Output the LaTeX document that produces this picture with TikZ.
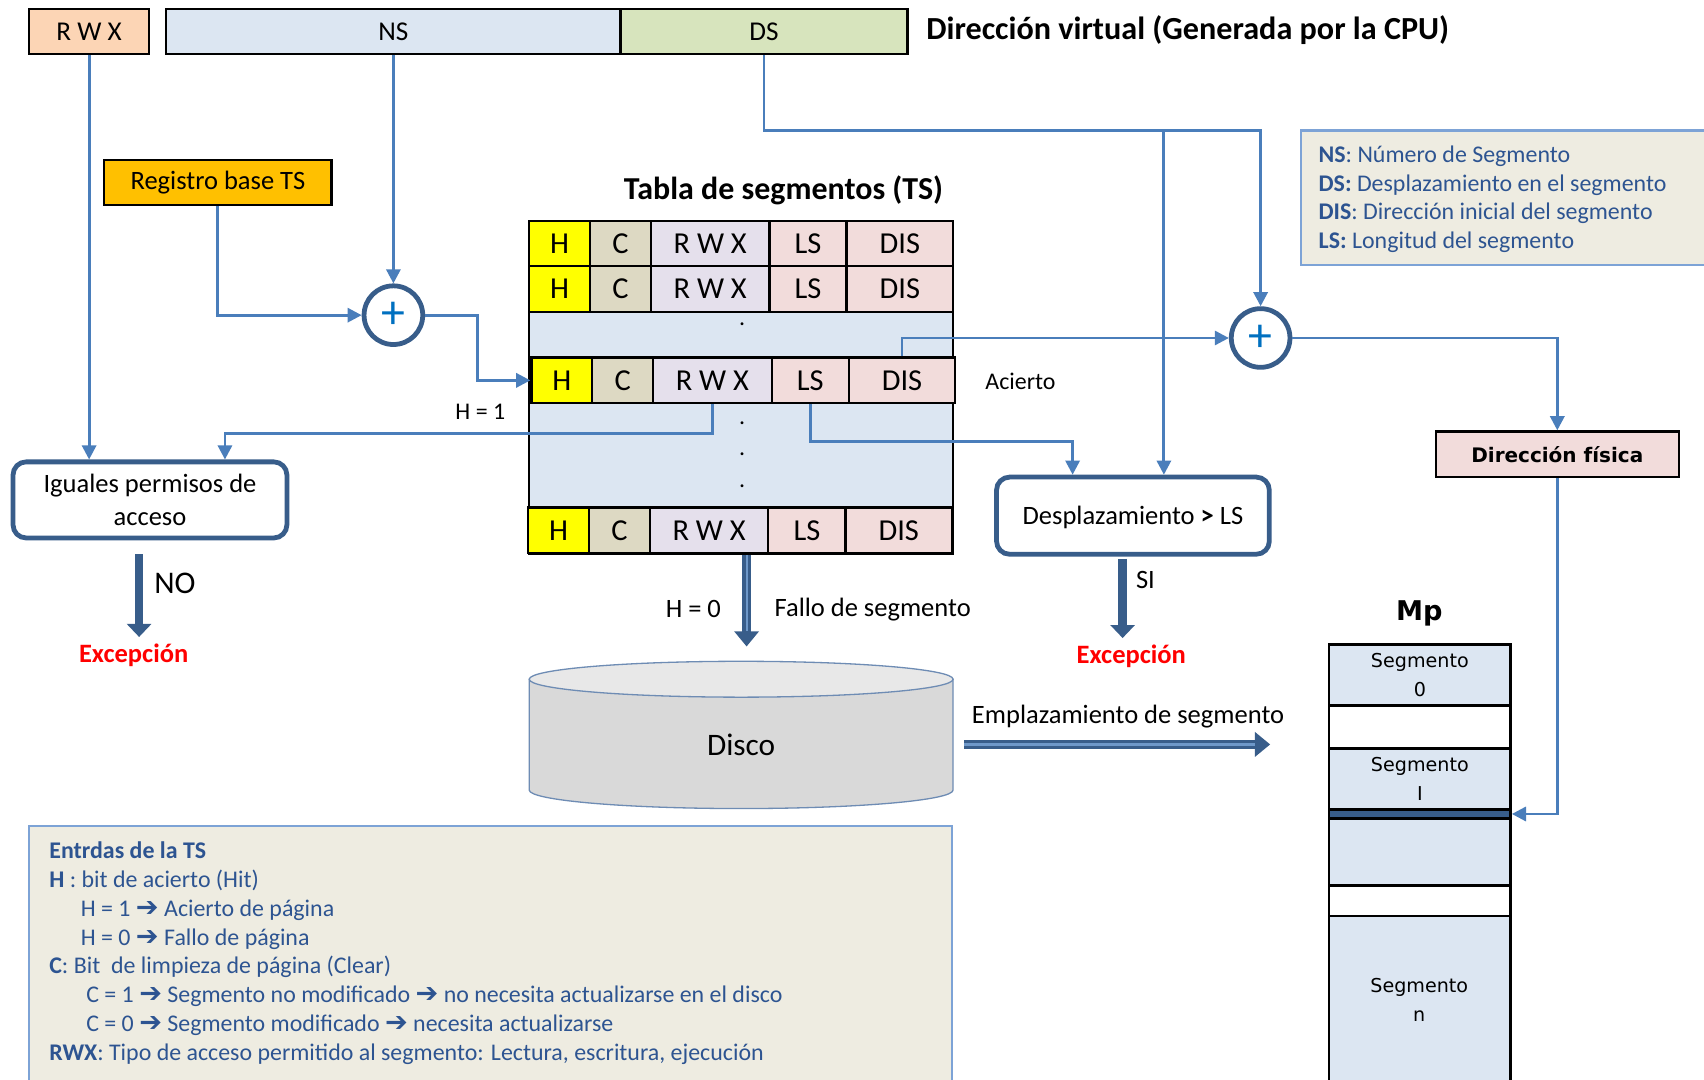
\documentclass[tikz,border=0pt]{standalone}
\usepackage{fontspec}
\setmainfont{Carlito}
\newfontfamily\verd{DejaVu Sans}
\newfontfamily\symf{DejaVu Sans}
\usetikzlibrary{arrows.meta,fit,shapes.geometric}

\definecolor{peach}{RGB}{252,213,181}
\definecolor{nsblue}{RGB}{220,230,242}
\definecolor{dsgreen}{RGB}{215,228,189}
\definecolor{regorange}{RGB}{255,192,0}
\definecolor{hyellow}{RGB}{255,255,0}
\definecolor{cbeige}{RGB}{221,217,195}
\definecolor{rwxlav}{RGB}{229,224,236}
\definecolor{lspink}{RGB}{242,220,219}
\definecolor{tblue}{RGB}{220,230,242}
\definecolor{legfill}{RGB}{238,236,225}
\definecolor{legborder}{RGB}{125,163,214}
\definecolor{linkblue}{RGB}{74,126,187}
\definecolor{darkblue}{RGB}{56,93,138}
\definecolor{legtext}{RGB}{45,84,145}
\definecolor{plusblue}{RGB}{0,112,192}
\definecolor{diskgray}{RGB}{217,217,217}
\definecolor{disktopc}{RGB}{232,232,232}
\definecolor{diskedge}{RGB}{110,140,180}

% one cell of the segment table: name, fill, x0, y0, x1, y1, text
\newcommand\tscell[7]{%
  \node[cell, fill=#2, fit={(#3,#4) (#5,#6)}] (#1) {};
  \node[celltext] at (#1.center) {#7};
}
% one row of the segment table: name prefix, left x, top y
\newcommand\tsrow[3]{%
  \tscell{#1h}{hyellow}{#2}{#3}{#2+56}{#3+42}{H}
  \tscell{#1c}{cbeige}{#2+56}{#3}{#2+112}{#3+42}{C}
  \tscell{#1r}{rwxlav}{#2+112}{#3}{#2+221}{#3+42}{R W X}
  \tscell{#1l}{lspink}{#2+221}{#3}{#2+292}{#3+42}{LS}
  \tscell{#1d}{lspink}{#2+292}{#3}{#2+390}{#3+42}{DIS}
}
\newcommand\arr{{\symf\bfseries\fontsize{12.5}{11}\selectfont ➔}}

\begin{document}
\begin{tikzpicture}[x=0.5pt, y=-0.5pt,
  every node/.style={inner sep=0pt},
  box/.style={draw=black, line width=1pt, inner sep=0pt},
  cell/.style={draw=black, line width=1pt, inner sep=0pt},
  celltext/.style={font=\fontsize{14}{16}\selectfont},
  boxtext/.style={font=\fontsize{12.5}{15}\selectfont, align=center},
  roundbox/.style={draw=darkblue, line width=2.2pt, rounded corners=6pt, fill=white, inner sep=0pt},
  roundtext/.style={align=center, font=\fontsize{12.2}{15}\selectfont},
  sumnode/.style={circle, draw=darkblue, line width=2.2pt, fill=white, minimum size=27pt, inner sep=0pt, text=plusblue, font=\fontsize{22}{22}\selectfont},
  link/.style={draw=linkblue, line width=1.3pt, -{Triangle[length=6.5pt,width=6.5pt]}},
  fat/.style={draw=darkblue, line width=4pt, -{Triangle[length=6pt,width=11pt]}},
  dbl/.style={draw=darkblue, line width=4.5pt, -{Triangle[length=7pt,width=11pt]}},
  dblin/.style={draw=linkblue!80!white, line width=1pt, shorten >=7pt},
  lbl/.style={font=\fontsize{12.2}{14}\selectfont},
  smalllbl/.style={font=\fontsize{11}{13}\selectfont},
  excp/.style={text=red, font=\fontsize{12.2}{14}\selectfont\bfseries},
  legend/.style={draw=legborder, line width=1pt, fill=legfill, inner sep=0pt},
  mpcell/.style={draw=black, line width=1.2pt, inner sep=0pt},
  mptext/.style={align=center, font=\verd\fontsize{8.8}{13.5}\selectfont},
]
\useasboundingbox (0,0) rectangle (1568,993);
\fill[white] (0,0) rectangle (1568,993);

% virtual address
\node[box, fill=peach,   fit={(27,8) (137,50)}] (rwx) {};
\node[boxtext] at (rwx.center) {R W X};
\node[box, fill=nsblue,  fit={(153,8) (571,50)}] (ns) {};
\node[boxtext] at (ns.center) {NS};
\node[box, fill=dsgreen, fit={(571,8) (835,50)}] (ds) {};
\node[boxtext] at (ds.center) {DS};
\node[anchor=west, font=\fontsize{14.8}{17}\selectfont\bfseries] (vtitle) at (852,28) {Dirección virtual (Generada por la CPU)};

% base register and adders
\node[box, fill=regorange, fit={(96,147) (305,189)}] (reg) {};
\node[boxtext, font=\fontsize{12.2}{15}\selectfont] at (reg.center) {Registro base TS};
\node[sumnode] (sum1) at (362,290) {+};
\node[sumnode] (sum2) at (1160,311) {+};

% top-right legend
\node[legend, fit={(1197,120) (1580,244)}] (leg1) {};
\node[anchor=north west, align=left, text=legtext, font=\fontsize{11}{13.15}\selectfont] (leg1txt) at (1213,134)
  {\textbf{NS}: Número de Segmento\\
   \textbf{DS:} Desplazamiento en el segmento\\
   \textbf{DIS}: Dirección inicial del segmento\\
   \textbf{LS:} Longitud del segmento};

% segment table
\node[font=\fontsize{14.7}{17}\selectfont\bfseries] (tstitle) at (721,175) {Tabla de segmentos (TS)};
\node[box, fill=tblue, fit={(487,203) (877,510)}] (tbl) {};
\tsrow{ra}{487}{203}
\tsrow{rb}{487}{245}
\tsrow{rc}{489}{329}
\tsrow{rd}{486}{467}
\node[smalllbl] (dot1) at (683,298) {.};
\node[smalllbl] (dot2) at (683,389) {.};
\node[smalllbl] (dot3) at (683,418) {.};
\node[smalllbl] (dot4) at (683,447) {.};
\node[smalllbl] (acierto) at (939,351) {Acierto};
\node[smalllbl] (h1) at (442,379) {H = 1};

% checks
\node[roundbox, fit={(12,425) (264,495)}] (igu) {};
\node[roundtext] at (igu.center) {Iguales permisos de\\acceso};
\node[roundbox, fit={(917,439) (1168,510)}] (desp) {};
\node[roundtext] at ([yshift=-1pt]desp.center) {Desplazamiento \textbf{>} LS};
\node[excp] (exc1) at (123,603) {Excepción};
\node[excp] (exc2) at (1041,604) {Excepción};
\node[font=\fontsize{14.5}{17}\selectfont] (no) at (161,537) {NO};
\node[lbl] (si) at (1054,534) {SI};

% physical address
\node[box, fill=lspink, fit={(1321,397) (1545,439)}] (dfis) {};
\node[font=\verd\bfseries\fontsize{9.2}{11}\selectfont] at (dfis.center) {Dirección física};

% disk
\path[fill=diskgray, draw=diskedge, line width=0.6pt] (487,625) -- (487,727)
  arc[start angle=180, end angle=360, x radius=97.5pt, y radius=8.5pt] -- (877,625) -- cycle;
\node[ellipse, draw=diskedge, line width=0.6pt, fill=disktopc, minimum width=195pt, minimum height=16.5pt] (disktop) at (682,625) {};
\node[fit={(487,625) (877,745)}] (diskbody) {};
\node[font=\fontsize{14.4}{17}\selectfont] at (diskbody.center) {Disco};
\node[lbl] (h0) at (638,560) {H = 0};
\node[lbl] (fallo) at (803,561) {Fallo de segmento};
\node[lbl] (empl) at (1038,659) {Emplazamiento de segmento};

% main memory
\node[font=\verd\bfseries\fontsize{12.5}{15}\selectfont] (mptitle) at (1306,564) {Mp};
\node[mpcell, fill=tblue,    fit={(1223,593) (1390,649)}] (mp0) {};
\node[mptext] at (mp0.center) {Segmento\\0};
\node[mpcell, fill=white,    fit={(1223,649) (1390,689)}] (mpg1) {};
\node[mpcell, fill=tblue,    fit={(1223,689) (1390,745)}] (mp1) {};
\node[mptext] at (mp1.center) {Segmento\\I};
\node[mpcell, fill=darkblue, fit={(1223,745) (1390,753)}] (mpbar) {};
\node[mpcell, fill=tblue,    fit={(1223,753) (1390,815)}] (mp2) {};
\node[mpcell, fill=white,    fit={(1223,815) (1390,843)}] (mpg2) {};
\node[mpcell, fill=tblue,    fit={(1223,843) (1390,1000)}] (mpn) {};
\node[mptext] at (1306,920) {Segmento\\n};

% bottom legend
\node[legend, fit={(27,760) (876,1000)}] (leg2) {};
\node[anchor=north west, align=left, text=legtext, font=\fontsize{11}{13.3}\selectfont] (leg2txt) at (45,774)
  {\textbf{Entrdas de la TS}\\
   \textbf{H} : bit de acierto (Hit)\\
   \hspace*{14.5pt}H = 1 \arr{} Acierto de página\\
   \hspace*{14.5pt}H = 0 \arr{} Fallo de página\\
   \textbf{C}: Bit\ \ de limpieza de página (Clear)\\
   \hspace*{17pt}C = 1 \arr{} Segmento no modificado \arr{} no necesita actualizarse en el disco\\
   \hspace*{17pt}C = 0 \arr{} Segmento modificado \arr{} necesita actualizarse\\
   \textbf{RWX}: Tipo de acceso permitido al segmento: Lectura, escritura, ejecución};

% connectors
\coordinate (dsbus) at (1071,120);
\draw[link] (rwx.south) -- (rwx.south |- igu.north);
\draw[link] (ns.south) -- (sum1.north);
\draw[link] (ds.south) |- (dsbus -| sum2.north) -- (sum2.north);
\draw[link] (dsbus) -- ([xshift=14.25pt]desp.north);
\draw[link] (reg.south) |- (sum1.west);
\draw[link] (sum1.east) -- ++(48,0) |- (rch.west);
\draw[link] (rcd.north) |- (sum2.west);
\draw[link] (rcr.south) -- ++(0,27) -| ([xshift=34.5pt]igu.north);
\draw[link] (rcl.south) -- ++(0,34) -| ([xshift=-27.75pt]desp.north);
\draw[link] (sum2.east) -| (dfis.north);
\draw[link] (dfis.south) |- (mpbar.east);

\draw[fat] ([xshift=-5pt,yshift=-6.5pt]igu.south) -- ([xshift=-5pt,yshift=3pt]igu.south |- exc1.north);
\draw[fat] ([xshift=-4.75pt,yshift=-1pt]desp.south) -- ([xshift=-4.75pt,yshift=3pt]desp.south |- exc2.north);

\draw[dbl] ([xshift=2.5pt]tbl.south) -- ([xshift=2.5pt,yshift=6.5pt]tbl.south |- disktop.north);
\draw[dblin] ([xshift=2.5pt]tbl.south) -- ([xshift=2.5pt,yshift=6.5pt]tbl.south |- disktop.north);
\draw[dbl] ([xshift=5pt]diskbody.east) -- ([xshift=-26.5pt]diskbody.east -| mpg1.west);
\draw[dblin] ([xshift=5pt]diskbody.east) -- ([xshift=-26.5pt]diskbody.east -| mpg1.west);
\end{tikzpicture}
\end{document}
